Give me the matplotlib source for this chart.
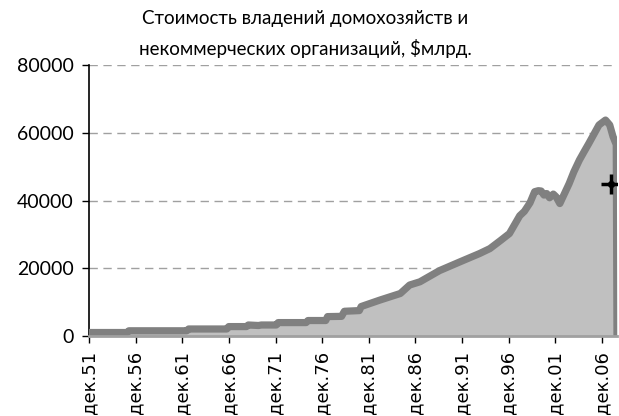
"""Household net worth area chart (Dec 1951 - 2008)."""

import matplotlib

matplotlib.use("Agg")

from matplotlib import pyplot as plt  # noqa: E402

TITLE = "Стоимость владений домохозяйств и\nнекоммерческих организаций, $млрд."

# x as fractional years, values in $bn
YEARS = [
    1951.92, 1956.0, 1956.2, 1962.4, 1962.6, 1966.7, 1966.9, 1968.8,
    1969.0, 1970.1, 1970.4, 1972.0, 1972.2, 1975.2, 1975.4, 1977.3,
    1977.5, 1979.0, 1979.3, 1980.9, 1981.1, 1983.1, 1985.3, 1986.3,
    1987.4, 1989.5, 1991.7, 1993.8, 1994.9, 1996.0, 1997.0, 1998.1,
    1998.6, 1999.2, 1999.7, 2000.1, 2000.4, 2000.7, 2001.0, 2001.3,
    2001.7, 2002.0, 2002.4, 2002.9, 2003.4, 2003.9, 2004.5, 2005.0,
    2005.5, 2006.0, 2006.6, 2007.3, 2007.75, 2008.1, 2008.45, 2008.53,
]
VALUES = [
    1030, 1030, 1540, 1540, 2070, 2070, 2780, 2780,
    3250, 3100, 3250, 3250, 3960, 3960, 4570, 4570,
    5730, 5800, 7300, 7500, 8700, 10600, 12550, 15050,
    16000, 19300, 21900, 24350, 25800, 28100, 30250, 35500,
    36800, 39300, 42600, 42900, 42800, 41600, 42050, 40800,
    41900, 41100, 39100, 42050, 45000, 48450, 51950, 54400,
    56800, 59300, 62300, 63750, 62300, 58900, 56500, 0,
]

MARKER_YEAR = 2007.9
MARKER_VALUE = 45000

TICK_YEARS = [1951.92 + 5 * i for i in range(12)]
TICK_LABELS = ["дек.51", "дек.56", "дек.61", "дек.66", "дек.71", "дек.76",
               "дек.81", "дек.86", "дек.91", "дек.96", "дек.01", "дек.06"]
Y_TICKS = [0, 20000, 40000, 60000, 80000]

plt.rcParams["font.family"] = ["Lato", "DejaVu Sans"]

fig = plt.figure(figsize=(6.19, 4.16), dpi=100)
ax = fig.add_axes([89 / 619, 1 - 336 / 416, 528 / 619, 271 / 416])

ax.fill_between(YEARS, VALUES, 0, color="#c0c0c0", linewidth=0, zorder=2)
ax.plot(YEARS, VALUES, color="#808080", linewidth=5.2, zorder=3,
        solid_joinstyle="round")
ax.plot([MARKER_YEAR], [MARKER_VALUE], marker="+", color="black",
        markersize=15, markeredgewidth=2.5, zorder=5)
ax.plot([MARKER_YEAR], [MARKER_VALUE], marker="D", color="black",
        markersize=4, zorder=5)

ax.set_xlim(1951.92, 2008.53)
ax.set_ylim(0, 80000)
ax.set_yticks(Y_TICKS)
ax.set_xticks(TICK_YEARS)
ax.set_xticklabels(TICK_LABELS, rotation=90)

ax.grid(axis="y", color="#a0a0a0", linestyle=(0, (6, 4)), linewidth=1.0,
        zorder=1)
ax.set_axisbelow(True)

for side in ["top", "right"]:
    ax.spines[side].set_visible(False)
ax.spines["left"].set_color("black")
ax.spines["left"].set_linewidth(1.2)
ax.spines["bottom"].set_color("#a0a0a0")
ax.spines["bottom"].set_linewidth(2)
ax.spines["bottom"].set_zorder(4)

ax.tick_params(axis="y", direction="out", length=5, width=1, pad=6,
               labelsize=14, colors="black")
ax.tick_params(axis="x", direction="out", length=5, width=1, pad=6,
               colors="black")
for label in ax.get_xticklabels():
    label.set_fontfamily(["DejaVu Sans"])
    label.set_fontsize(13)

fig.text(0.493, 1 - 34 / 416, TITLE, ha="center", va="center",
         fontsize=13.5, linespacing=1.7)

fig.savefig("out.png", dpi=100)
